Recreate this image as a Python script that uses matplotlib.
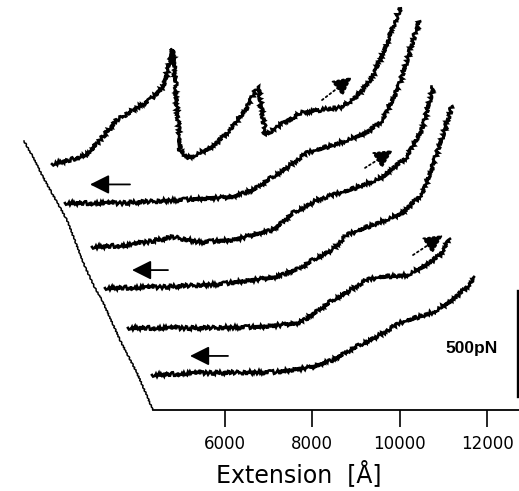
import matplotlib
matplotlib.use("Agg")
import matplotlib.pyplot as plt

# extension [Angstrom] and force [pN] (stacked)
ext_a = [2038, 2450, 2908, 3137, 3526, 3893, 4282, 4580, 4740, 4786, 4832, 4969, 5152,
         5725, 6183, 6503, 6732, 6778, 6847, 6938, 7190, 7717, 8175, 8702, 9091, 9389,
         9709, 10007]
force_a = [1160, 1179, 1212, 1274, 1368, 1415, 1462, 1524, 1637, 1703, 1651, 1226, 1189,
           1241, 1335, 1429, 1519, 1519, 1406, 1297, 1335, 1401, 1415, 1429, 1495, 1571,
           1731, 1896]

ext_b = [2336, 3595, 4969, 6183, 6641, 7328, 7877, 8473, 9251, 9618, 10007, 10236, 10442]
force_b = [976, 976, 991, 1005, 1038, 1132, 1212, 1250, 1307, 1368, 1542, 1698, 1835]

ext_c = [2954, 3824, 4809, 5427, 6183, 7099, 7557, 8106, 8862, 9618, 10167, 10534, 10763]
force_c = [769, 778, 816, 792, 802, 849, 929, 991, 1038, 1099, 1193, 1335, 1524]

ext_d = [3252, 4511, 5885, 7190, 7717, 8015, 8473, 8793, 9549, 10076, 10534, 10877,
         11060, 11198]
force_d = [575, 580, 594, 627, 670, 708, 760, 825, 887, 929, 1024, 1226, 1344, 1434]

ext_e = [3778, 5427, 6801, 7717, 8473, 9251, 9549, 10167, 10625, 10923, 11152]
force_e = [387, 387, 392, 410, 519, 613, 627, 637, 684, 731, 807]

ext_f = [4328, 5427, 7190, 8015, 8473, 8862, 9618, 10007, 10763, 11221, 11541, 11725]
force_f = [165, 175, 179, 203, 236, 283, 363, 410, 462, 519, 580, 623]

# slanted stacking axis
slant_x = [1397, 1603, 1832, 2381, 2794, 3023, 3183, 3595, 3984, 4351]
slant_y = [1269, 1193, 1099, 896, 675, 575, 519, 330, 175, 0]

# arrows: (tail x, tail y, head x, head y)
arrows = [
    (8221, 1462, 8908, 1571, "dot"),
    (3824, 1064, 2908, 1064, "solid"),
    (9206, 1142, 9847, 1226, "dot"),
    (4694, 660, 3870, 660, "solid"),
    (10305, 731, 10992, 825, "dot"),
    (6068, 255, 5198, 255, "solid"),
]

xticks = [6000, 8000, 10000, 12000]

fig = plt.figure(figsize=(5.19, 4.91), dpi=100)
ax = fig.add_axes([0, 81 / 491, 1, 410 / 491])
ax.set_xlim(847, 12732)
ax.set_ylim(0, 1934)

traces = [(ext_a, force_a), (ext_b, force_b), (ext_c, force_c),
          (ext_d, force_d), (ext_e, force_e), (ext_f, force_f)]
for ex, fo in traces:
    ln, = ax.plot(ex, fo, color="black", lw=1.9, solid_joinstyle="miter")
    ln.set_sketch_params(scale=1.8, length=2.0, randomness=3)

sl, = ax.plot(slant_x, slant_y, color="black", lw=1.1)
sl.set_sketch_params(scale=0.6, length=4, randomness=2)

for tx, ty, hx, hy, kind in arrows:
    ax.annotate("", xy=(hx, hy), xytext=(tx, ty),
                arrowprops=dict(arrowstyle="-|>,head_length=0.9,head_width=0.45",
                                color="black", lw=1.3,
                                linestyle=":" if kind == "dot" else "-",
                                mutation_scale=13, shrinkA=0, shrinkB=0))

# scale bar
ax.plot([12709, 12709], [61, 561], color="black", lw=1.7, clip_on=False)
ax.text(11656, 288, "500pN", fontsize=12.5, fontweight="bold",
        family="Liberation Sans", ha="center", va="center")

for s in ["top", "left", "right"]:
    ax.spines[s].set_visible(False)
ax.spines["bottom"].set_bounds(4351, 12732)
ax.spines["bottom"].set_linewidth(1.3)
ax.set_yticks([])
ax.set_xticks(xticks)
ax.set_xticklabels([str(t) for t in xticks])
ax.tick_params(axis="x", direction="out", length=12, width=1.2, labelsize=12, pad=6)
ax.set_xlabel("Extension  [Å]", fontsize=17)
ax.xaxis.set_label_coords(299 / 519, -0.122)

fig.savefig("out.png", dpi=100)
